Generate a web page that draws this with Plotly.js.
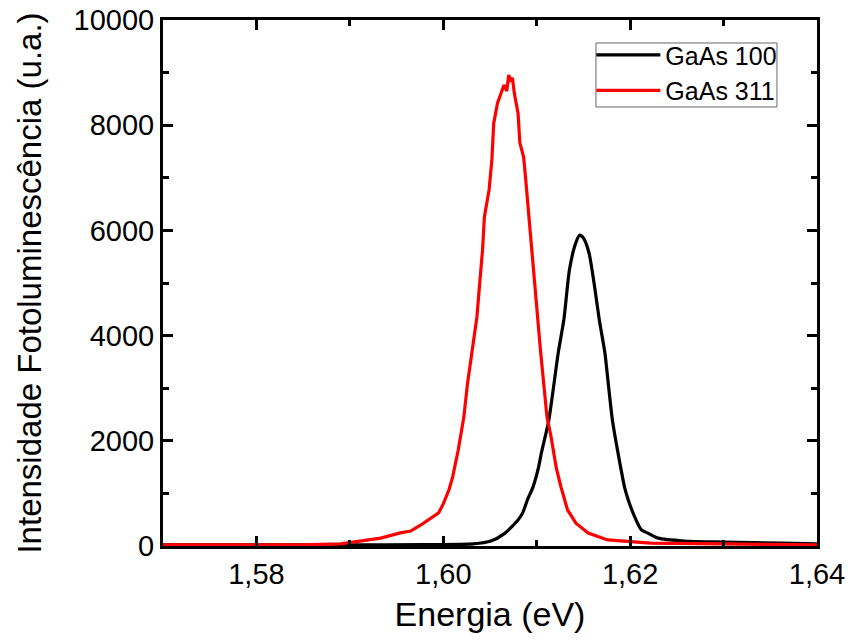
<!DOCTYPE html>
<html>
<head>
<meta charset="utf-8">
<script src="https://cdn.plot.ly/plotly-3.0.1.min.js"></script>
<style>
  html, body { margin: 0; padding: 0; background: #ffffff; }
  #chart { width: 848px; height: 641px; }
</style>
</head>
<body>
<div id="chart"></div>
<script>
// Photoluminescence spectra of GaAs substrates (energy in eV, intensity in a.u.)
const energy100 = [1.5700, 1.5800, 1.5900, 1.5980, 1.6032, 1.6051, 1.6065, 1.6080, 1.6085, 1.6090,
  1.6096, 1.6102, 1.6105, 1.6110, 1.6113, 1.6118, 1.6123, 1.6129, 1.6135, 1.6141,
  1.6146, 1.6150, 1.6156, 1.6162, 1.6167, 1.6173, 1.6177, 1.6181, 1.6187, 1.6194,
  1.6198, 1.6204, 1.6212, 1.6219, 1.6230, 1.6258, 1.6301, 1.6362, 1.6401];
const intensity100 = [20, 20, 20, 25, 40, 95, 230, 495, 630, 875,
  1120, 1500, 1770, 2150, 2395, 3020, 3670, 4295, 5245, 5720,
  5910, 5855, 5570, 4925, 4295, 3670, 3020, 2395, 1770, 1120,
  875, 590, 305, 245, 150, 95, 75, 55, 40];

const energy311 = [1.5700, 1.5793, 1.5847, 1.5890, 1.5911, 1.5933, 1.5954, 1.5965, 1.5976, 1.5986,
  1.5995, 1.6000, 1.6006, 1.6010, 1.6016, 1.6022, 1.6026, 1.6031, 1.6036, 1.6039,
  1.6042, 1.6044, 1.6049, 1.6052, 1.6054, 1.6058, 1.6062, 1.6065, 1.6068, 1.6070,
  1.6072, 1.6074, 1.6076, 1.6080, 1.6082, 1.6086, 1.6088, 1.6091, 1.6095, 1.6098,
  1.6101, 1.6104, 1.6111, 1.6115, 1.6121, 1.6126, 1.6133, 1.6142, 1.6155, 1.6176,
  1.6222, 1.6276, 1.6401];
const intensity311 = [20, 20, 20, 40, 95, 150, 250, 285, 400, 515,
  630, 800, 1065, 1310, 1825, 2450, 3100, 3725, 4355, 5000,
  5625, 6255, 6770, 7340, 8040, 8420, 8610, 8765, 8650, 8955,
  8860, 8900, 8610, 8230, 7660, 7395, 7015, 6390, 5625, 5000,
  4355, 3725, 2450, 2110, 1480, 1120, 685, 435, 245, 115,
  55, 40, 20];

const seriesNames = ["GaAs 100", "GaAs 311"];
const xTitle = "Energia (eV)";
const yTitle = "Intensidade Fotoluminescência (u.a.)";

const font = "Liberation Sans, Arial, sans-serif";

const traces = [
  { x: energy100, y: intensity100, name: seriesNames[0], type: "scatter", mode: "lines",
    line: { color: "#000000", width: 3.2, shape: "spline", smoothing: 0.6 } },
  { x: energy311, y: intensity311, name: seriesNames[1], type: "scatter", mode: "lines",
    line: { color: "#ff0000", width: 3.2, shape: "linear" } }
];

const axisCommon = {
  showgrid: false, zeroline: false,
  showline: true, linecolor: "#000000", linewidth: 3, mirror: "ticks",
  ticks: "inside", ticklen: 10, tickwidth: 3, tickcolor: "#000000",
  tickfont: { family: font, size: 29, color: "#000000" }
};

const layout = {
  width: 848, height: 641,
  margin: { l: 163, r: 31, t: 20, b: 95 },
  paper_bgcolor: "#ffffff", plot_bgcolor: "#ffffff",
  separators: ",.",
  font: { family: font, color: "#000000" },
  showlegend: true,
  legend: {
    x: 0.655, y: 0.977, xanchor: "left", yanchor: "top",
    bgcolor: "rgba(0,0,0,0)", borderwidth: 0,
    font: { family: font, size: 25, color: "#000000" },
    itemwidth: 64, tracegroupgap: 0
  },
  // frame around the legend entries
  shapes: [{
    type: "rect", xref: "paper", yref: "paper",
    x0: 0.662, x1: 0.9388, y0: 0.8346, y1: 0.9563,
    line: { color: "#666666", width: 1 }, fillcolor: "rgba(0,0,0,0)", layer: "above"
  }],
  xaxis: Object.assign({}, axisCommon, {
    range: [1.57, 1.64], tick0: 1.58, dtick: 0.02, tickformat: ".2f",
    minor: { dtick: 0.01, ticks: "inside", ticklen: 6, tickwidth: 3, tickcolor: "#000000" },
    title: { text: xTitle, font: { family: font, size: 34, color: "#000000" }, standoff: 14 }
  }),
  yaxis: Object.assign({}, axisCommon, {
    range: [0, 10000], tick0: 0, dtick: 2000, tickformat: "d",
    minor: { dtick: 1000, ticks: "inside", ticklen: 6, tickwidth: 3, tickcolor: "#000000" },
    title: { text: yTitle, font: { family: font, size: 33, color: "#000000" }, standoff: 22 }
  })
};

Plotly.newPlot("chart", traces, layout, { displayModeBar: false, staticPlot: true });
</script>
</body>
</html>
